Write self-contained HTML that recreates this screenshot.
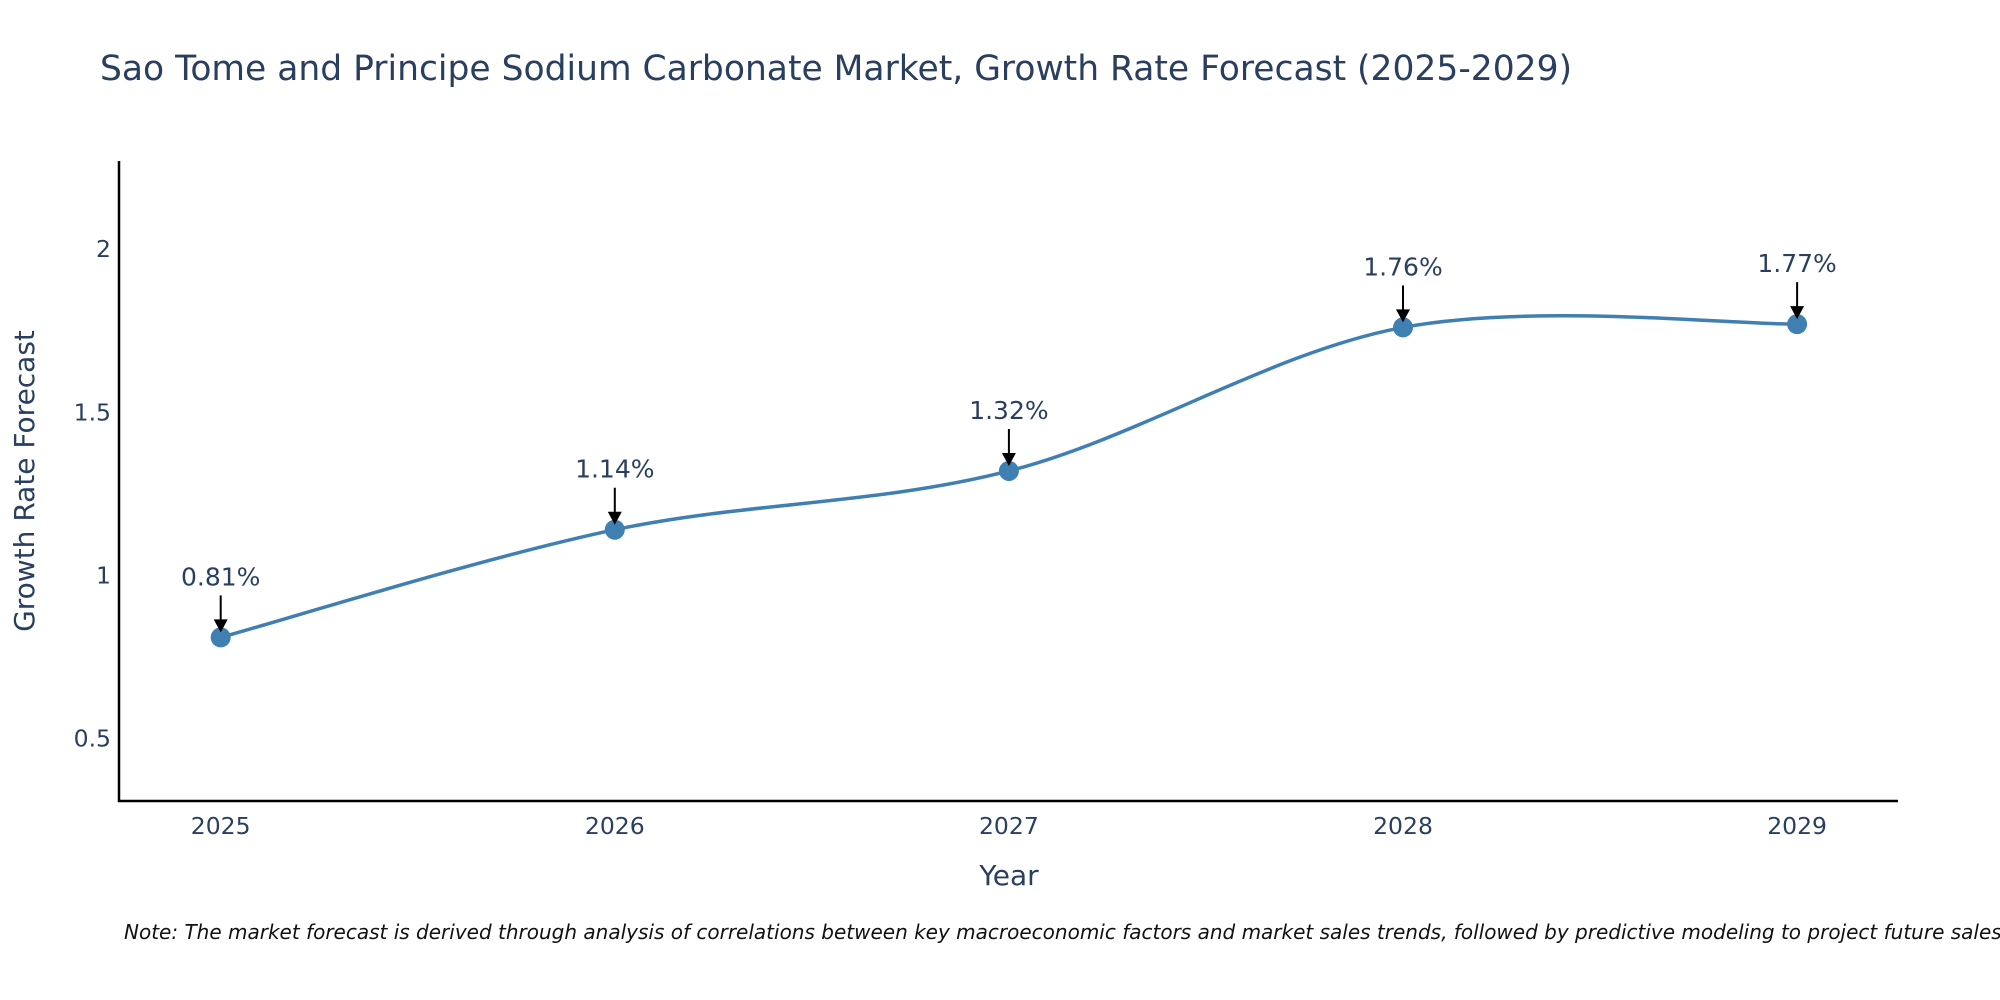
<!DOCTYPE html>
<html><head><meta charset="utf-8"><style>
body{margin:0;background:#fff;}
svg{display:block;font-family:"DejaVu Sans","Liberation Sans",sans-serif;}
</style></head><body>
<svg id="chart" width="2000" height="1000" viewBox="0 0 2000 1000">
<text x="100" y="80" font-size="34.5" fill="#2a3f5f">Sao Tome and Principe Sodium Carbonate Market, Growth Rate Forecast (2025-2029)</text>
<g id="yticks"></g><g id="xticks"></g>
<line x1="119" y1="161" x2="119" y2="802" stroke="#000" stroke-width="2.5"/>
<line x1="118" y1="801" x2="1898" y2="801" stroke="#000" stroke-width="2.5"/>
<path id="series" fill="none" stroke="#3f7fb1" stroke-width="3.5"/>
<g id="marks"></g>
<text x="1009" y="885" font-size="28" fill="#2a3f5f" text-anchor="middle">Year</text>
<text transform="translate(34,481) rotate(-90)" font-size="28" fill="#2a3f5f" text-anchor="middle">Growth Rate Forecast</text>
<text x="124" y="939" font-size="20" font-style="italic" fill="#111">Note: The market forecast is derived through analysis of correlations between key macroeconomic factors and market sales trends, followed by predictive modeling to project future sales.</text>
</svg>
<script>
const years=[2025,2026,2027,2028,2029];
const values=[0.81,1.14,1.32,1.76,1.77];
const labels=["0.81%","1.14%","1.32%","1.76%","1.77%"];
const yTicks=[0.5,1,1.5,2];
const yTickLabels=["0.5","1","1.5","2"];
const NS="http://www.w3.org/2000/svg";
function xs(v){return 220.7+(v-2025)*394.1;}
function ys(v){return 901.7-v*326.3;}
function mk(t,a,p){const e=document.createElementNS(NS,t);for(const k in a)e.setAttribute(k,a[k]);p.appendChild(e);return e;}
const yt=document.getElementById('yticks');
yTicks.forEach((v,i)=>{const t=mk('text',{x:111,y:ys(v)+8,'font-size':23.5,fill:'#2a3f5f','text-anchor':'end'},yt);t.textContent=yTickLabels[i];

});
const xt=document.getElementById('xticks');
years.forEach(y=>{const t=mk('text',{x:xs(y),y:834,'font-size':23.5,fill:'#2a3f5f','text-anchor':'middle'},xt);t.textContent=String(y);

});
const P=years.map((y,i)=>[xs(y),ys(values[i])]);
let d='M'+P[0][0]+','+P[0][1];
const s=1/6;
for(let i=0;i<P.length-1;i++){const p0=P[Math.max(i-1,0)],p1=P[i],p2=P[i+1],p3=P[Math.min(i+2,P.length-1)];
d+=' C'+(p1[0]+(p2[0]-p0[0])*s)+','+(p1[1]+(p2[1]-p0[1])*s)+' '+(p2[0]-(p3[0]-p1[0])*s)+','+(p2[1]-(p3[1]-p1[1])*s)+' '+p2[0]+','+p2[1];}
document.getElementById('series').setAttribute('d',d);
const g=document.getElementById('marks');
P.forEach((p,i)=>{
const c=mk('circle',{cx:p[0],cy:p[1],r:10,fill:'#3f7fb1'},g);


const l=mk('line',{x1:p[0],y1:p[1]-42,x2:p[0],y2:p[1]-16,stroke:'#000','stroke-width':2},g);


const h=mk('polygon',{points:(p[0]-7)+','+(p[1]-18)+' '+(p[0]+7)+','+(p[1]-18)+' '+p[0]+','+(p[1]-5)},g);
h.setAttribute('fill','#000');


const t=mk('text',{x:p[0],y:p[1]-52,'font-size':25,fill:'#2a3f5f','text-anchor':'middle'},g);
t.textContent=labels[i];


});
</script>
</body></html>
